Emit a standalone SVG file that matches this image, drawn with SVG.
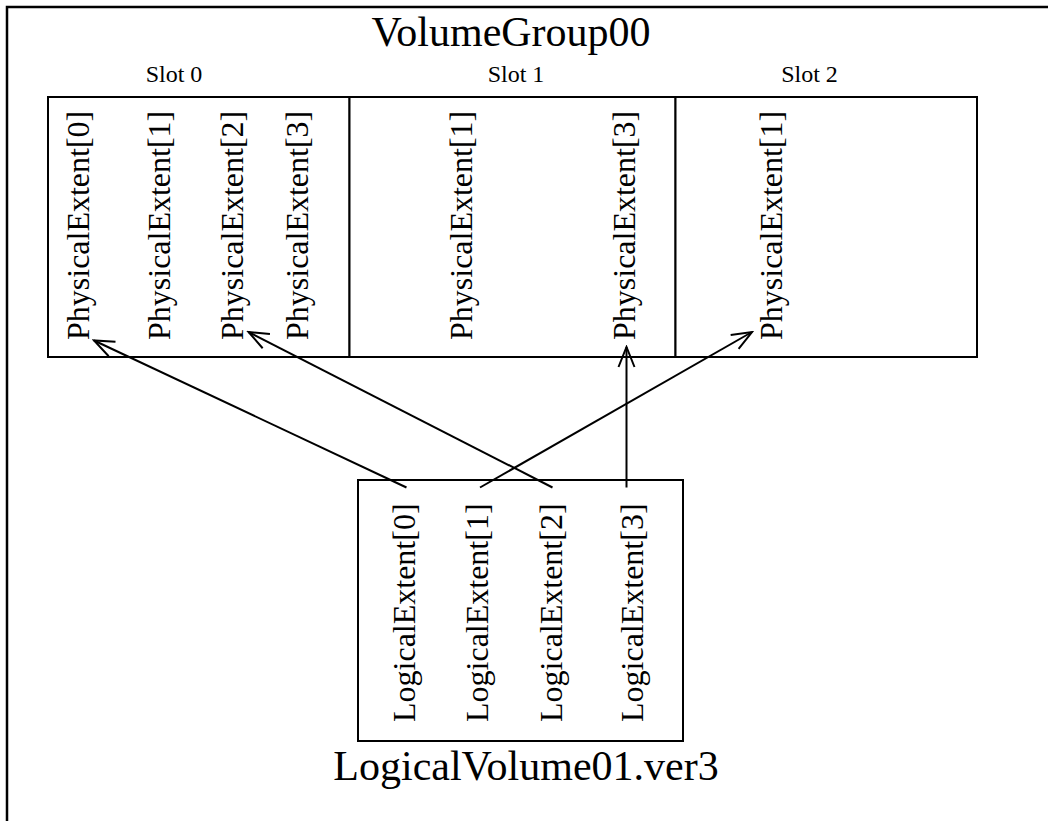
<svg xmlns="http://www.w3.org/2000/svg" width="1048" height="821" viewBox="0 0 1048 821">
  <style>
    .frame { fill: none; stroke: #000; stroke-width: 2.5; }
    .box { fill: #fff; stroke: #000; stroke-width: 2; }
    .title { font-family: "Liberation Serif", "Times New Roman", serif; font-size: 42px; fill: #000; text-anchor: middle; }
    .slot { font-family: "Liberation Serif", "Times New Roman", serif; font-size: 24px; fill: #000; text-anchor: middle; }
    .ext { font-family: "Liberation Serif", "Times New Roman", serif; font-size: 32px; fill: #000; }
    .link { fill: none; stroke: #000; stroke-width: 2; marker-end: url(#arrow); }
  </style>
  <defs>
    <marker id="arrow" markerUnits="userSpaceOnUse" markerWidth="24" markerHeight="24" viewBox="-22 -12 24 24" refX="0" refY="0" orient="auto">
      <path d="M -20 -8 L 0 0 L -20 8" fill="none" stroke="#000" stroke-width="2"/>
    </marker>
  </defs>

  <rect width="1048" height="821" fill="#fff"/>

  <!-- volume group frame, open to the right and bottom -->
  <g id="volume-group">
    <path class="frame" d="M 1050 7 L 7 7 L 7 823"/>
    <text class="title" x="511" y="46">VolumeGroup00</text>
  </g>

  <!-- physical volume slots -->
  <g id="slot0">
    <rect class="box" x="48" y="97" width="301.5" height="260"/>
    <text class="slot" x="174" y="82">Slot 0</text>
    <text class="ext" transform="translate(89,340) rotate(-90)">PhysicalExtent[0]</text>
    <text class="ext" transform="translate(170,340) rotate(-90)">PhysicalExtent[1]</text>
    <text class="ext" transform="translate(243,340) rotate(-90)">PhysicalExtent[2]</text>
    <text class="ext" transform="translate(308,340) rotate(-90)">PhysicalExtent[3]</text>
  </g>
  <g id="slot1">
    <rect class="box" x="349.5" y="97" width="326" height="260"/>
    <text class="slot" x="516" y="82">Slot 1</text>
    <text class="ext" transform="translate(472,340) rotate(-90)">PhysicalExtent[1]</text>
    <text class="ext" transform="translate(635,340) rotate(-90)">PhysicalExtent[3]</text>
  </g>
  <g id="slot2">
    <rect class="box" x="675.5" y="97" width="301.5" height="260"/>
    <text class="slot" x="809.5" y="82">Slot 2</text>
    <text class="ext" transform="translate(782,340) rotate(-90)">PhysicalExtent[1]</text>
  </g>

  <!-- logical volume -->
  <g id="logical-volume">
    <rect class="box" x="358" y="480" width="325" height="261"/>
    <text class="ext" transform="translate(415,722) rotate(-90)">LogicalExtent[0]</text>
    <text class="ext" transform="translate(488,722) rotate(-90)">LogicalExtent[1]</text>
    <text class="ext" transform="translate(562,722) rotate(-90)">LogicalExtent[2]</text>
    <text class="ext" transform="translate(643,722) rotate(-90)">LogicalExtent[3]</text>
    <text class="title" x="526" y="780">LogicalVolume01.ver3</text>
  </g>

  <!-- extent mappings -->
  <g id="connectors">
    <line class="link" x1="406.5" y1="487.5" x2="94" y2="340.5"/>
    <line class="link" x1="480" y1="487.5" x2="752" y2="332"/>
    <line class="link" x1="552.5" y1="487.5" x2="248.5" y2="332"/>
    <line class="link" x1="626.5" y1="487.5" x2="626.5" y2="347"/>
  </g>
</svg>
